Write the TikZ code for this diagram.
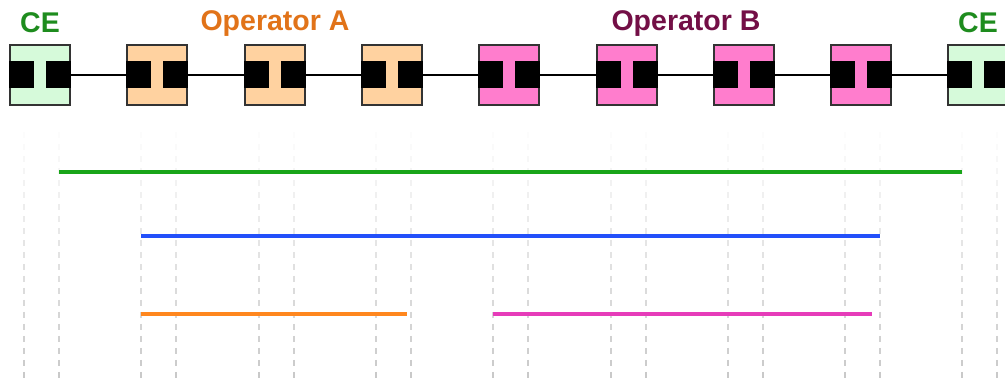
\documentclass[tikz,border=0pt]{standalone}
\usepackage{fontspec}
\setmainfont{Liberation Sans}
\usetikzlibrary{calc}
\definecolor{cegreen}{RGB}{30,140,30}
\definecolor{opaorange}{RGB}{225,115,25}
\definecolor{opbpurple}{RGB}{115,15,70}
\definecolor{cefill}{RGB}{214,250,218}
\definecolor{opafill}{RGB}{255,210,160}
\definecolor{opbfill}{RGB}{255,125,205}
\definecolor{linegreen}{RGB}{25,165,25}
\definecolor{lineblue}{RGB}{35,80,250}
\definecolor{lineorange}{RGB}{255,135,30}
\definecolor{linepink}{RGB}{230,60,185}
\tikzset{
  gate/.style={draw=black!80, line width=1.8pt, minimum width=60pt, minimum height=60pt, inner sep=0pt},
  pad/.style={fill=black},
  wire/.style={line width=1.8pt, draw=black},
  label-text/.style={font=\fontsize{28.5}{34}\selectfont\bfseries, anchor=base, inner sep=0pt},
  span/.style={line width=3.6pt},
  guide/.style={line width=1.8pt}
}
\newcommand{\gatebox}[3]{
  \node[gate, fill=#3] (#1) at (#2,75) {};
  \fill[pad] ($(#1.west)+(0,-14)$) rectangle ($(#1.west)+(25,13)$);
  \fill[pad] ($(#1.east)+(-25,-14)$) rectangle ($(#1.east)+(0,13)$);
  \coordinate (#1-l) at ($(#1.south)+(-16,0)$);
  \coordinate (#1-r) at ($(#1.south)+(19,0)$);
}

\begin{document}
\begin{tikzpicture}[x=1pt, y=-1pt]
  \useasboundingbox (0,0) rectangle (1005,381);
  % Gates along the chain
  \foreach \i/\x/\c in {1/40/cefill, 2/157/opafill, 3/275/opafill, 4/392/opafill,
                        5/509/opbfill, 6/627/opbfill, 7/744/opbfill, 8/861/opbfill, 9/978/cefill}
    {\gatebox{b\i}{\x}{\c}}
  % Wires between gates
  \foreach \i [evaluate=\i as \j using int(\i+1)] in {1,...,8}
    \draw[wire] (b\i.east) -- (b\j.west);
  % Labels
  \node[label-text, cegreen] (ce-left) at (40,32) {CE};
  \node[label-text, opaorange] (op-a) at (275,30) {Operator A};
  \node[label-text, opbpurple] (op-b) at (686,30) {Operator B};
  \node[label-text, cegreen] (ce-right) at (978,32) {CE};
  % Guides, fading in downwards
  \foreach \i in {1,...,9}
    \foreach \s in {l,r}
      \foreach \k [evaluate=\k as \shade using int(10+3.2*\k)] in {0,...,22}
        \draw[guide, draw=black!\shade] ($(b\i-\s)+(0,14+12*\k)$) -- ++(0,6);
  % Spans
  \coordinate (row-g) at (0,172);
  \coordinate (row-b) at (0,236);
  \coordinate (row-o) at (0,314);
  \draw[span, linegreen] (b1-r |- row-g) -- (b9-l |- row-g);
  \draw[span, lineblue] (b2-l |- row-b) -- (b8-r |- row-b);
  \draw[span, lineorange] (b2-l |- row-o) -- ($(b4-r |- row-o)+(-4,0)$);
  \draw[span, linepink] (b5-l |- row-o) -- ($(b8-r |- row-o)+(-8,0)$);
\end{tikzpicture}
\end{document}
